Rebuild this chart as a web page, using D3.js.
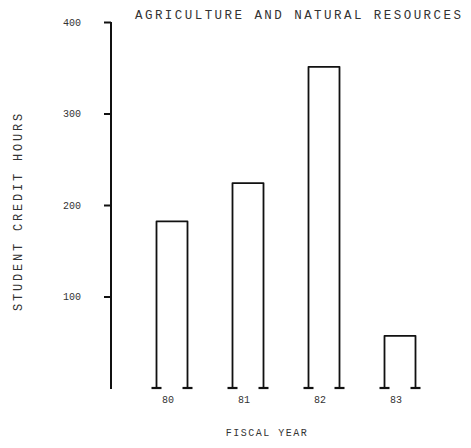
<!DOCTYPE html>
<html>
<head>
<meta charset="utf-8">
<script src="https://cdn.jsdelivr.net/npm/d3@7"></script>
<style>
  body { margin: 0; background: #fff; }
  svg text { font-family: "Liberation Mono", "DejaVu Sans Mono", monospace; fill: #333; }
  .bar { fill: none; stroke: #111; stroke-width: 1.8; stroke-linejoin: round; }
  .foot { stroke: #111; stroke-width: 2.2; }
</style>
</head>
<body>
<div id="chart"></div>
<script>
// --- Data ---
const years = ['80', '81', '82', '83'];
const hours = [182, 224, 351, 57];
const yTicks = [100, 200, 300, 400];

const W = 471, H = 448;
const svg = d3.select('#chart').append('svg')
    .attr('width', W)
    .attr('height', H);

// --- Scales ---
const x = d3.scalePoint()
    .domain(years)
    .range([172, 400]);

const y = d3.scaleLinear()
    .domain([0, 400])
    .range([388, 22]);

const barW = 31;

// --- Title ---
svg.append('text')
    .attr('x', 135)
    .attr('y', 19)
    .attr('font-size', 12.5)
    .attr('letter-spacing', 2.45)
    .text('AGRICULTURE AND NATURAL RESOURCES');

// --- Y axis ---
const yAxis = svg.append('g')
    .attr('transform', 'translate(111,0)')
    .call(d3.axisLeft(y).tickValues(yTicks).tickSize(7).tickPadding(23));
yAxis.select('.domain')
    .attr('d', `M0,${y(400)}V${y(0) + 1}`)
    .attr('stroke', '#111')
    .attr('stroke-width', 2);
yAxis.selectAll('.tick line').attr('stroke', '#111').attr('stroke-width', 2);
yAxis.selectAll('.tick text')
    .attr('font-size', 10)
    .attr('font-family', '"Liberation Mono", monospace')
    .attr('fill', '#444');

// --- Bars (open at the bottom, like the plotter drawing) ---
svg.selectAll('.bar')
    .data(years)
    .enter().append('path')
    .attr('class', 'bar')
    .attr('d', (d, i) => {
        const x0 = x(d) - barW / 2, x1 = x(d) + barW / 2;
        return `M${x0},${y(0)}V${y(hours[i])}H${x1}V${y(0)}`;
    });

// small feet at the base of each bar side
const feet = [];
years.forEach(d => { feet.push(x(d) - barW / 2); feet.push(x(d) + barW / 2); });
svg.selectAll('.foot')
    .data(feet)
    .enter().append('line')
    .attr('class', 'foot')
    .attr('x1', d => d - 5).attr('x2', d => d + 5)
    .attr('y1', y(0)).attr('y2', y(0));

// --- X labels ---
svg.selectAll('.xlab')
    .data(years)
    .enter().append('text')
    .attr('class', 'xlab')
    .attr('x', d => x(d) - 4)
    .attr('y', 403)
    .attr('text-anchor', 'middle')
    .attr('font-size', 10)
    .attr('fill', '#555')
    .text(d => d);

// --- Axis titles ---
svg.append('text')
    .attr('x', 267)
    .attr('y', 436)
    .attr('text-anchor', 'middle')
    .attr('font-size', 10)
    .attr('letter-spacing', 1.5)
    .attr('fill', '#555')
    .text('FISCAL YEAR');

svg.append('text')
    .attr('transform', 'translate(22,211) rotate(-90)')
    .attr('text-anchor', 'middle')
    .attr('font-size', 12)
    .attr('letter-spacing', 2.8)
    .text('STUDENT CREDIT HOURS');
</script>
</body>
</html>
